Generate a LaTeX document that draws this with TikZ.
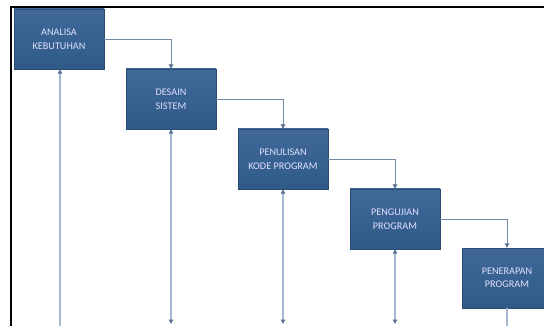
\documentclass[tikz,border=0pt]{standalone}
\usepackage{fontspec}
\setmainfont{Carlito}
\usepackage{tikz}
\usetikzlibrary{arrows.meta}

\definecolor{boxtop}{HTML}{40699A}
\definecolor{boxbot}{HTML}{2F5A86}
\definecolor{linkline}{HTML}{7489A8}
\definecolor{backline}{HTML}{A3B7D1}
\definecolor{tipcol}{HTML}{5A7194}

\tikzset{
    >={Triangle[length=4.5pt,width=4.5pt,color=tipcol]},
    phase/.style={rectangle, minimum width=90pt, minimum height=60pt, inner sep=0pt,
        top color=boxtop, bottom color=boxbot, draw=boxbot!85!black, line width=0.4pt,
        text=white!88!blue, align=center, font=\fontsize{10.2}{13.5}\selectfont},
    link/.style={draw=linkline, line width=0.9pt, ->},
    back/.style={draw=backline, line width=1.6pt}
}

\begin{document}
\begin{tikzpicture}[x=1pt,y=-1pt]
        \useasboundingbox (0,0) rectangle (544,326);
        \clip (0,0) rectangle (544,326);

        \coordinate (b1) at (60,326);
        \coordinate (b2) at (171,324);
        \coordinate (b3) at (283,324);
        \coordinate (b4) at (395,324);
        \coordinate (b5) at (507,326);

        \draw[black, line width=1.5pt] (11,326) -- (11,7) -- (544,7);

        \node[phase] (analisa) at (59,39) {ANALISA\\KEBUTUHAN};
        \node[phase] (desain) at (171,99) {DESAIN\\SISTEM};
        \node[phase] (penulisan) at (283,159) {PENULISAN\\KODE PROGRAM};
        \node[phase] (pengujian) at (395,219) {PENGUJIAN\\PROGRAM};
        \node[phase] (penerapan) at (507,278) {PENERAPAN\\PROGRAM};

        \draw[link] (analisa.east) -| (desain.north);
        \draw[link] (desain.east) -| (penulisan.north);
        \draw[link] (penulisan.east) -| (pengujian.north);
        \draw[link] (pengujian.east) -| (penerapan.north);

        \draw[back, ->] (b1) -- (b1 |- analisa.south);
        \draw[back, <->] (desain.south) -- (b2);
        \draw[back, <->] (penulisan.south) -- (b3);
        \draw[back, <->] (pengujian.south) -- (b4);
        \draw[back] (penerapan.south) -- (b5);
    \end{tikzpicture}
\end{document}
